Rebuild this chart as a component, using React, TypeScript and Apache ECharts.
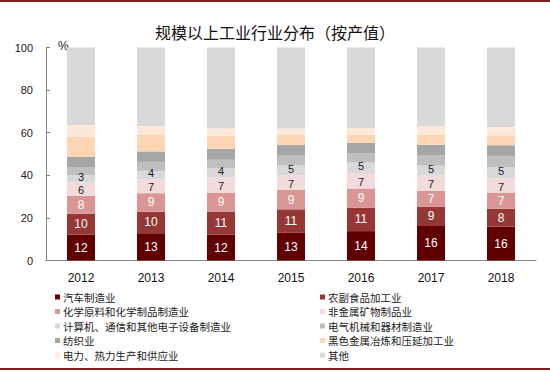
import React, { useEffect, useRef } from "react";
import * as echarts from "echarts";

const years = ["2012", "2013", "2014", "2015", "2016", "2017", "2018"];
const seriesNames = [
  "汽车制造业",
  "农副食品加工业",
  "化学原料和化学制品制造业",
  "非金属矿物制品业",
  "计算机、通信和其他电子设备制造业",
  "电气机械和器材制造业",
  "纺织业",
  "黑色金属冶炼和压延加工业",
  "电力、热力生产和供应业",
  "其他",
];
const auto = [12.1, 12.8, 12.2, 13.0, 13.8, 16.2, 15.9];
const food = [9.9, 10.1, 10.6, 11.0, 10.9, 9.1, 8.4];
const chem = [8.4, 8.7, 8.9, 9.1, 9.1, 7.4, 7.4];
const nonMetal = [6.2, 6.6, 7.3, 7.0, 7.3, 7.2, 7.0];
const computer = [3.4, 3.9, 4.4, 4.7, 4.9, 4.6, 5.2];
const electric = [3.6, 4.2, 3.9, 4.4, 4.2, 4.8, 5.0];
const textile = [5.0, 4.9, 5.2, 5.0, 5.0, 5.0, 5.2];
const ferrous = [9.4, 8.0, 6.1, 4.7, 3.9, 4.7, 4.7];
const power = [5.6, 3.9, 3.4, 3.1, 3.1, 3.9, 3.9];
const others = [36.4, 36.9, 38.0, 38.0, 37.8, 37.1, 37.3];
const yTicks = [0, 20, 40, 60, 80, 100];

const values = [auto, food, chem, nonMetal, computer, electric, textile, ferrous, power, others];
const colors = [
  "#600000",
  "#953735",
  "#D99694",
  "#F2DCDB",
  "#D9D9D9",
  "#BFBFBF",
  "#A6A6A6",
  "#FCD5B5",
  "#FDE9D9",
  "#D9D9D9",
];
const labelColors = ["#fff", "#fff", "#fff", "#1a1a2e", "#1a1a2e"];
const labelOffsets = [[0, 0], [0, 0], [0, 0], [0, 1], [0, -1.5]];

const CJK = '"Noto Sans CJK SC", sans-serif';
const NUM = '"Liberation Sans", Arial, sans-serif';

export default function App() {
  const ref = useRef<HTMLDivElement>(null);
  useEffect(() => {
    if (!ref.current) return;
    const chart = echarts.init(ref.current, undefined, { renderer: "svg" });
    const series = seriesNames.map((name, i) => ({
      name,
      type: "bar" as const,
      stack: "total",
      barWidth: 28,
      data: values[i],
      itemStyle: { color: colors[i] },
      label: {
        show: i < 5,
        position: "inside" as const,
        color: labelColors[i] || "#000",
        fontFamily: NUM,
        fontSize: i >= 3 ? 11 : 12,
        lineHeight: i >= 3 ? 9 : 14,
        offset: labelOffsets[i] || [0, 0],
        formatter: (p: any) => String(Math.round(p.value)),
      },
      emphasis: { disabled: true },
    }));
    const legendText = { fontFamily: CJK, fontSize: 10.5, color: "#222", lineHeight: 12 };
    chart.setOption({
      animation: false,
      title: {
        text: "规模以上工业行业分布（按产值）",
        left: "center",
        top: 19,
        textStyle: { fontFamily: CJK, fontSize: 16, fontWeight: "normal", color: "#111" },
      },
      grid: { left: 46, right: 14, top: 47.5, bottom: 111.5, containLabel: false },
      legend: [
        {
          data: [seriesNames[0], seriesNames[2], seriesNames[4], seriesNames[6], seriesNames[8]],
          orient: "vertical",
          left: 55,
          top: 291,
          icon: "rect",
          itemWidth: 5,
          itemHeight: 5,
          itemGap: 2.5,
          padding: 0,
          textStyle: { ...legendText, padding: [0, 0, 0, -2] },
          selectedMode: false,
        },
        {
          data: [seriesNames[1], seriesNames[3], seriesNames[5], seriesNames[7], seriesNames[9]],
          orient: "vertical",
          left: 320,
          top: 291,
          icon: "rect",
          itemWidth: 5,
          itemHeight: 5,
          itemGap: 2.5,
          padding: 0,
          textStyle: { ...legendText, padding: [0, 0, 0, -2] },
          selectedMode: false,
        },
      ],
      xAxis: {
        type: "category",
        data: years,
        axisLine: { lineStyle: { color: "#868686", width: 1 } },
        axisTick: { inside: true, length: 4, lineStyle: { color: "#868686" } },
        axisLabel: { fontFamily: NUM, fontSize: 12, color: "#111", margin: 11 },
      },
      yAxis: {
        type: "value",
        min: 0,
        max: 100,
        interval: 20,
        axisLine: { show: true, lineStyle: { color: "#868686", width: 1 } },
        axisTick: { show: true, inside: true, length: 4, lineStyle: { color: "#868686" } },
        splitLine: { show: false },
        axisLabel: {
          fontFamily: NUM,
          fontSize: 11,
          color: "#222",
          margin: 13,
          formatter: (v: number) => (yTicks.includes(v) ? String(v) : ""),
        },
      },
      graphic: [
        { type: "rect", left: 0, top: 0, shape: { width: 550, height: 2 }, style: { fill: "#7F1F1F" } },
        { type: "rect", left: 0, top: 368, shape: { width: 550, height: 2 }, style: { fill: "#7F1F1F" } },
        {
          type: "text",
          left: 58,
          top: 40,
          style: { text: "%", fontFamily: NUM, fontSize: 12, fill: "#222" },
        },
      ],
      series,
    });
    return () => chart.dispose();
  }, []);
  return <div ref={ref} style={{ width: 550, height: 372, position: "absolute", left: 0, top: 0 }} />;
}
